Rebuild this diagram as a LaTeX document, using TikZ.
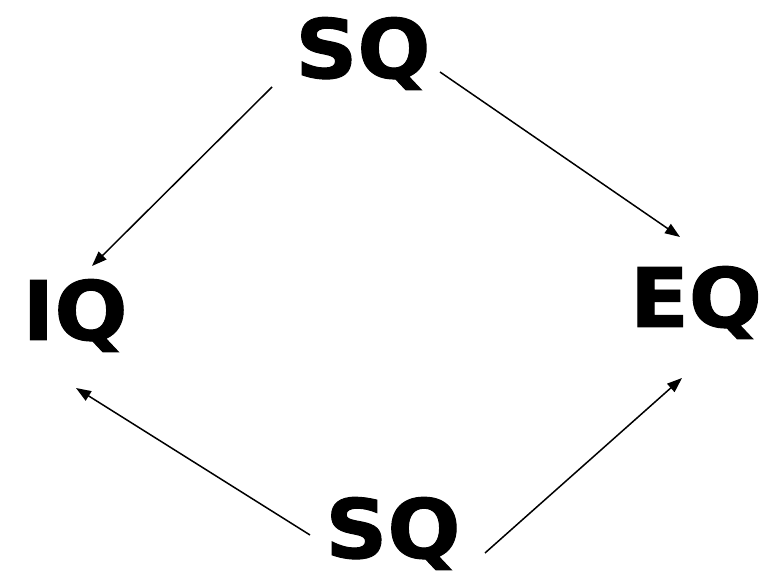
\documentclass[tikz,border=0pt]{standalone}
\usepackage{fontspec}
\setmainfont{DejaVu Sans}
\newfontfamily\qfont[FakeStretch=1.05,FakeBold=1.2]{DejaVu Sans}
\usetikzlibrary{arrows.meta}
\begin{document}
\begin{tikzpicture}[
    x=1pt, y=1pt,
    qNode/.style={anchor=base, inner sep=0pt, font=\qfont\fontsize{82}{82}\selectfont\bfseries},
    qEdge/.style={line width=1.5pt, -{Triangle[length=15pt,width=11pt]}}
]
\useasboundingbox (0,0) rectangle (761,578);
\node[qNode] (sqtop) at (363,500) {SQ};
\node[qNode] (iq) at (75,238) {IQ};
\node[qNode] (eq) at (696,251) {EQ};
\node[qNode] (sqbot) at (393,20) {SQ};
\draw[qEdge] ([shift={(-91pt,-9pt)}]sqtop.base) -- ([shift={(17pt,74pt)}]iq.base);
\draw[qEdge] ([shift={(77pt,6pt)}]sqtop.base) -- ([shift={(-16pt,90pt)}]eq.base);
\draw[qEdge] ([shift={(-83pt,23pt)}]sqbot.base) -- ([shift={(1pt,-48pt)}]iq.base);
\draw[qEdge] ([shift={(92pt,5pt)}]sqbot.base) -- ([shift={(-14pt,-51pt)}]eq.base);
\end{tikzpicture}
\end{document}
